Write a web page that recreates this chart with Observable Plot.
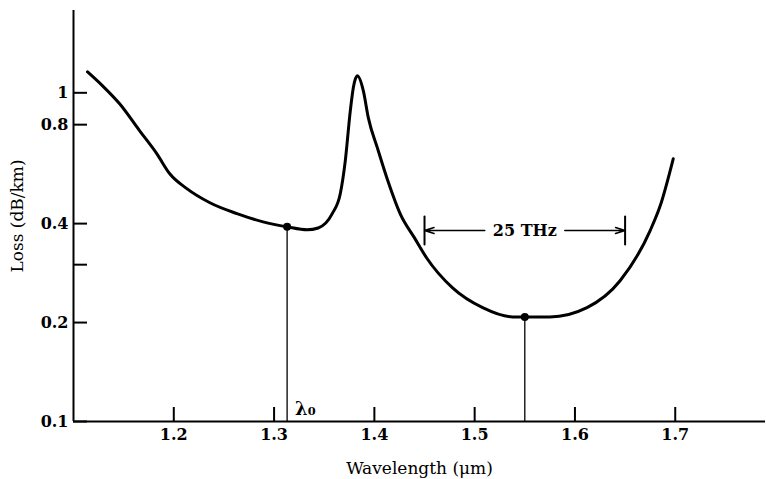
<!DOCTYPE html>
<html>
<head>
<meta charset="utf-8">
<script src="https://cdn.jsdelivr.net/npm/d3@7"></script>
<script src="https://cdn.jsdelivr.net/npm/@observablehq/plot@0.6"></script>
<style>
  html, body { margin: 0; padding: 0; background: #fff; }
  #chart svg { display: block; }
</style>
</head>
<body>
<div id="chart"></div>
<script>
// Fiber loss curve
const wavelength = [1.114, 1.129, 1.146, 1.166, 1.183, 1.196, 1.213, 1.236, 1.263, 1.289, 1.313, 1.333, 1.344,
                    1.358, 1.366, 1.371, 1.376, 1.379, 1.383, 1.389, 1.394, 1.403, 1.413, 1.426, 1.440, 1.452,
                    1.478, 1.508, 1.538, 1.550, 1.575, 1.612, 1.645, 1.675, 1.685, 1.698];
const loss       = [1.158, 1.05, 0.926, 0.766, 0.653, 0.567, 0.511, 0.463, 0.429, 0.405, 0.391, 0.383, 0.388,
                    0.429, 0.493, 0.621, 0.881, 1.036, 1.126, 1.014, 0.839, 0.680, 0.545, 0.427, 0.362, 0.315,
                    0.255, 0.222, 0.208, 0.208, 0.208, 0.222, 0.268, 0.381, 0.453, 0.630];

// Marked operating points
const markWavelength = [1.313, 1.550];
const markLoss       = [0.391, 0.208];
const markLabels     = ["λ₀", ""];

// Bandwidth annotation
const bandEdges  = [1.45, 1.65];
const bandLevel  = 0.381;
const bandLabel  = "25 THz";

// Axes
const xDomain = [1.1, 1.79];
const yDomain = [0.1, 1.78];
const xTickValues = [1.2, 1.3, 1.4, 1.5, 1.6, 1.7];
const xTickLabels = ["1.2", "1.3", "1.4", "1.5", "1.6", "1.7"];
const yTickValues = [0.1, 0.2, 0.3, 0.4, 0.8, 1];
const yTickLabels = ["0.1", "0.2", "", "0.4", "0.8", "1"];
const xTitle = "Wavelength (μm)";
const yTitle = "Loss (dB/km)";

const curve = wavelength.map((w, i) => ({w, l: loss[i]}));
const marks = markWavelength.map((w, i) => ({w, l: markLoss[i], label: markLabels[i]}));
const bandCenter = (bandEdges[0] + bandEdges[1]) / 2;
const xLab = new Map(xTickValues.map((v, i) => [v, xTickLabels[i]]));
const yLab = new Map(yTickValues.map((v, i) => [v, yTickLabels[i]]));

const tickLine = {draw(ctx, l) { ctx.moveTo(0, -l / 2); ctx.lineTo(0, l / 2); }};

const chart = Plot.plot({
  width: 766,
  height: 479,
  marginLeft: 73,
  marginRight: 1,
  marginTop: 10,
  marginBottom: 58,
  style: {fontFamily: "DejaVu Serif", fontSize: "17px", color: "#000", background: "#fff"},
  x: {domain: xDomain},
  y: {type: "log", domain: yDomain},
  marks: [
    Plot.axisX({ticks: xTickValues, tickFormat: d => xLab.get(d), tickSize: -14, tickPadding: 21,
                strokeWidth: 2, fontWeight: "bold", fontSize: 16, label: null}),
    Plot.axisX({ticks: [], label: xTitle, labelAnchor: "center", labelOffset: 52, labelArrow: "none", fontSize: 17}),
    Plot.axisY({ticks: yTickValues, tickFormat: d => yLab.get(d), tickSize: -14, tickPadding: 19,
                strokeWidth: 2, fontWeight: "bold", fontSize: 16, label: null}),
    Plot.axisY({ticks: [], label: yTitle, labelAnchor: "center", labelOffset: 63, labelArrow: "none", fontSize: 17}),
    Plot.ruleY([yDomain[0]], {stroke: "#000", strokeWidth: 2}),
    Plot.ruleX([xDomain[0]], {stroke: "#000", strokeWidth: 2}),
    Plot.ruleX(marks, {x: "w", y1: yDomain[0], y2: "l", stroke: "#000", strokeWidth: 1.3}),
    Plot.line(curve, {x: "w", y: "l", curve: "monotone-x", stroke: "#000", strokeWidth: 3}),
    Plot.dot(marks, {x: "w", y: "l", r: 4, fill: "#000"}),
    Plot.text(marks, {x: "w", y: yDomain[0], text: "label", textAnchor: "start", dx: 8, dy: -12,
                fontSize: 18, fontWeight: "bold"}),
    Plot.arrow([bandEdges[0], bandEdges[1]], {x1: bandCenter, x2: d => d, y1: bandLevel, y2: bandLevel,
                insetStart: 40, headLength: 10, headAngle: 35, stroke: "#000", strokeWidth: 1.5}),
    Plot.vector(bandEdges, {x: d => d, y: bandLevel, length: 28, anchor: "start", shape: tickLine,
                stroke: "#000", strokeWidth: 2}),
    Plot.text([bandLabel], {x: bandCenter, y: bandLevel, text: d => d, fontSize: 16, fontWeight: "bold"})
  ]
});
document.getElementById("chart").appendChild(chart);
</script>
</body>
</html>
